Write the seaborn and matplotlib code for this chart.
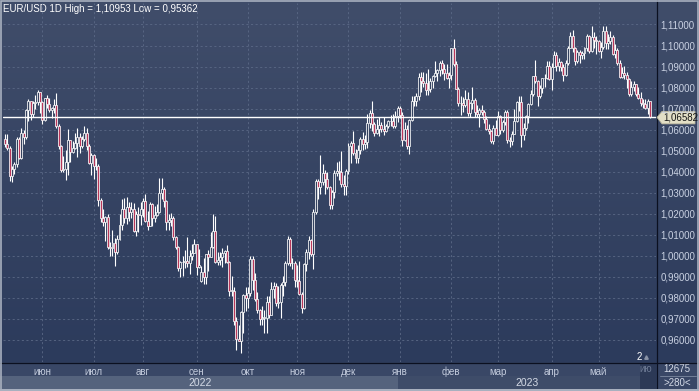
import numpy as np
import pandas as pd
import matplotlib
matplotlib.use("Agg")
import matplotlib.pyplot as plt
import seaborn as sns
from matplotlib.patches import Rectangle, Polygon

sns.set_theme(style="dark")
plt.rcParams['font.family'] = ['Liberation Sans', 'DejaVu Sans']

# ---------------- data (daily EUR/USD, 2022-05-10 .. 2023-05-31) ----------------
start_date = "2022-05-10"
opens = [
    1.0555,1.0530,1.0515,1.0380,1.0412,1.0435,1.0555,1.0465,1.0585,1.0563,1.0692,1.0735,1.0674,1.0725,1.0733,1.0780,
    1.0733,1.0648,1.0750,1.0720,1.0695,1.0705,1.0715,1.0615,1.0520,1.0410,1.0415,1.0445,1.0550,1.0495,1.0515,1.0535,1.0565,1.0520,1.0555,1.0585,1.0520,1.0443,
    1.0480,1.0425,1.0425,1.0265,1.0180,1.0160,1.0185,1.0040,1.0035,1.0060,1.0020,1.0080,1.0145,1.0225,1.0180,1.0230,1.0210,1.0225,1.0120,1.0200,1.0195,
    1.0225,1.0260,1.0165,1.0140,1.0245,1.0180,1.0195,1.0210,1.0300,1.0320,1.0260,1.0160,1.0170,1.0180,1.0090,1.0040,0.9940,0.9970,0.9970,0.9975,0.9965,1.0000,1.0015,
    1.0055,0.9945,0.9880,0.9925,0.9900,1.0010,0.9995,1.0040,1.0120,0.9970,0.9980,0.9995,1.0015,1.0025,0.9970,0.9835,0.9835,0.9690,0.9605,0.9595,0.9735,0.9815,
    0.9800,0.9825,0.9985,0.9885,0.9795,0.9740,0.9700,0.9705,0.9705,0.9780,0.9720,0.9840,0.9855,0.9775,0.9780,0.9860,0.9875,0.9965,1.0080,0.9965,0.9965,
    0.9885,0.9880,0.9820,0.9750,0.9960,1.0020,1.0075,1.0010,1.0210,1.0355,1.0325,1.0350,1.0395,1.0365,1.0325,1.0240,1.0305,1.0395,1.0405,1.0400,1.0340,1.0330,
    1.0405,1.0520,1.0535,1.0490,1.0465,1.0505,1.0555,1.0530,1.0540,1.0630,1.0680,1.0625,1.0585,1.0605,1.0620,1.0605,1.0595,1.0615,1.0640,1.0640,1.0615,1.0665,
    1.0705,1.0670,1.0550,1.0605,1.0520,1.0645,1.0735,1.0735,1.0760,1.0850,1.0830,1.0820,1.0790,1.0795,1.0830,1.0855,1.0870,1.0885,1.0915,1.0890,1.0870,1.0845,
    1.0860,1.0990,1.0910,1.0795,1.0725,1.0725,1.0715,1.0745,1.0680,1.0725,1.0740,1.0685,1.0675,1.0695,1.0685,1.0650,1.0605,1.0595,1.0545,1.0610,
    1.0575,1.0665,1.0600,1.0635,1.0685,1.0550,1.0545,1.0580,1.0640,1.0730,1.0730,1.0575,1.0610,1.0665,1.0720,1.0770,1.0855,1.0830,1.0760,1.0800,1.0845,1.0845,1.0905,
    1.0840,1.0900,1.0955,1.0905,1.0920,1.0900,1.0860,1.0915,1.0990,1.1045,1.0990,1.0925,1.0970,1.0955,1.0965,1.0990,1.1045,1.0975,1.1040,1.1025,
    1.1020,1.0975,1.0995,1.1070,1.1010,1.1020,1.1040,1.0960,1.0980,1.0915,1.0850,1.0870,1.0860,1.0840,1.0770,1.0805,1.0815,1.0770,1.0750,1.0725,1.0720,1.0705,1.0735,
]
highs = [
    1.0578,1.0577,1.0524,1.0425,1.0444,1.0563,1.0565,1.0607,1.0597,1.0698,1.0748,1.0737,1.0737,1.0765,1.0787,1.0780,
    1.0736,1.0750,1.0764,1.0749,1.0708,1.0748,1.0774,1.0625,1.0525,1.0476,1.0505,1.0601,1.0552,1.0548,1.0582,1.0606,1.0582,1.0572,1.0615,1.0606,1.0531,1.0487,
    1.0486,1.0463,1.0436,1.0276,1.0222,1.0189,1.0198,1.0068,1.0122,1.0084,1.0097,1.0200,1.0269,1.0273,1.0278,1.0257,1.0258,1.0249,1.0214,1.0234,1.0254,
    1.0275,1.0293,1.0215,1.0254,1.0253,1.0237,1.0248,1.0368,1.0368,1.0328,1.0267,1.0200,1.0202,1.0191,1.0095,1.0048,0.9977,0.9999,1.0029,1.0090,1.0029,1.0055,1.0080,
    1.0055,1.0033,0.9950,0.9989,1.0011,1.0029,1.0112,1.0198,1.0187,1.0020,1.0017,1.0036,1.0030,1.0051,0.9977,0.9906,0.9852,0.9710,0.9671,0.9738,0.9817,0.9854,
    0.9853,0.9999,0.9998,0.9920,0.9830,0.9748,0.9760,0.9742,0.9807,0.9809,0.9875,0.9876,0.9873,0.9858,0.9869,0.9905,0.9976,1.0093,1.0089,0.9990,0.9976,
    0.9954,0.9976,0.9830,0.9966,1.0033,1.0094,1.0082,1.0222,1.0366,1.0365,1.0480,1.0436,1.0407,1.0397,1.0332,1.0315,1.0407,1.0446,1.0450,1.0497,1.0383,1.0415,
    1.0535,1.0545,1.0595,1.0506,1.0528,1.0565,1.0588,1.0574,1.0673,1.0695,1.0736,1.0637,1.0651,1.0659,1.0638,1.0660,1.0625,1.0647,1.0670,1.0675,1.0687,1.0714,
    1.0713,1.0683,1.0636,1.0622,1.0650,1.0760,1.0760,1.0775,1.0868,1.0873,1.0875,1.0868,1.0887,1.0845,1.0860,1.0927,1.0888,1.0925,1.0929,1.0914,1.0914,1.0876,
    1.0990,1.1033,1.0928,1.0804,1.0760,1.0753,1.0790,1.0777,1.0730,1.0805,1.0749,1.0718,1.0705,1.0715,1.0695,1.0665,1.0627,1.0597,1.0622,1.0645,
    1.0691,1.0668,1.0645,1.0695,1.0695,1.0564,1.0593,1.0700,1.0735,1.0760,1.0760,1.0631,1.0670,1.0725,1.0789,1.0856,1.0930,1.0838,1.0812,1.0846,1.0863,1.0925,1.0925,
    1.0916,1.0973,1.0970,1.0942,1.0925,1.0913,1.0929,1.0998,1.1063,1.1075,1.0994,1.0980,1.0980,1.0976,1.0994,1.1053,1.1050,1.1095,1.1064,1.1045,
    1.1028,1.1015,1.1092,1.1091,1.1054,1.1068,1.1048,1.1008,1.0988,1.0932,1.0900,1.0904,1.0873,1.0846,1.0829,1.0829,1.0818,1.0804,1.0779,1.0746,1.0745,1.0746,1.0738,
]
lows = [
    1.0519,1.0501,1.0354,1.0349,1.0390,1.0422,1.0461,1.0460,1.0531,1.0555,1.0642,1.0644,1.0662,1.0699,1.0718,1.0680,
    1.0627,1.0640,1.0703,1.0685,1.0654,1.0677,1.0608,1.0506,1.0398,1.0397,1.0359,1.0382,1.0445,1.0488,1.0510,1.0470,1.0490,1.0513,1.0545,1.0504,1.0437,1.0382,
    1.0366,1.0409,1.0236,1.0162,1.0144,1.0072,1.0034,0.9999,0.9998,0.9952,1.0007,1.0075,1.0121,1.0154,1.0153,1.0164,1.0180,1.0112,1.0095,1.0112,1.0145,
    1.0185,1.0160,1.0123,1.0140,1.0141,1.0160,1.0188,1.0202,1.0272,1.0230,1.0122,1.0123,1.0144,1.0074,1.0033,0.9926,0.9900,0.9903,0.9942,0.9948,0.9915,0.9982,1.0015,
    0.9910,0.9940,0.9877,0.9864,0.9864,0.9929,0.9995,1.0035,0.9966,0.9955,0.9955,0.9945,0.9968,0.9967,0.9810,0.9807,0.9669,0.9553,0.9593,0.9536,0.9635,0.9737,
    0.9751,0.9807,0.9836,0.9786,0.9730,0.9670,0.9671,0.9632,0.9632,0.9706,0.9718,0.9801,0.9760,0.9754,0.9706,0.9810,0.9855,0.9955,0.9952,0.9936,0.9853,
    0.9852,0.9815,0.9730,0.9747,0.9930,0.9984,1.0000,0.9935,1.0200,1.0272,1.0292,1.0338,1.0293,1.0316,1.0223,1.0225,1.0276,1.0380,1.0361,1.0325,1.0289,1.0290,
    1.0390,1.0443,1.0478,1.0443,1.0443,1.0484,1.0505,1.0507,1.0515,1.0610,1.0593,1.0572,1.0578,1.0568,1.0590,1.0573,1.0588,1.0610,1.0615,1.0607,1.0610,1.0635,
    1.0655,1.0520,1.0545,1.0510,1.0484,1.0643,1.0712,1.0714,1.0739,1.0778,1.0802,1.0767,1.0766,1.0777,1.0800,1.0850,1.0833,1.0857,1.0865,1.0835,1.0843,1.0800,
    1.0835,1.0902,1.0795,1.0713,1.0669,1.0686,1.0710,1.0666,1.0660,1.0700,1.0660,1.0660,1.0613,1.0672,1.0630,1.0600,1.0577,1.0536,1.0533,1.0575,
    1.0569,1.0577,1.0587,1.0620,1.0537,1.0516,1.0526,1.0577,1.0635,1.0689,1.0516,1.0552,1.0600,1.0630,1.0719,1.0759,1.0822,1.0714,1.0750,1.0775,1.0804,1.0840,1.0835,
    1.0788,1.0897,1.0877,1.0878,1.0880,1.0832,1.0857,1.0907,1.0986,1.0970,1.0909,1.0915,1.0916,1.0938,1.0937,1.0974,1.0964,1.0970,1.0990,1.0962,
    1.0967,1.0942,1.0985,1.0983,1.0984,1.1006,1.0956,1.0942,1.0908,1.0846,1.0847,1.0840,1.0800,1.0762,1.0760,1.0786,1.0760,1.0747,1.0711,1.0703,1.0699,1.0675,1.0655,
]
closes = [
    1.0530,1.0515,1.0380,1.0412,1.0435,1.0555,1.0465,1.0585,1.0563,1.0692,1.0735,1.0674,1.0725,1.0733,1.0780,1.0733,
    1.0648,1.0750,1.0720,1.0695,1.0705,1.0715,1.0615,1.0520,1.0410,1.0415,1.0445,1.0550,1.0495,1.0515,1.0535,1.0565,1.0520,1.0555,1.0585,1.0520,1.0443,1.0480,
    1.0425,1.0425,1.0265,1.0180,1.0160,1.0185,1.0040,1.0035,1.0060,1.0020,1.0080,1.0145,1.0225,1.0180,1.0230,1.0210,1.0225,1.0120,1.0200,1.0195,1.0225,
    1.0260,1.0165,1.0140,1.0245,1.0180,1.0195,1.0210,1.0300,1.0320,1.0260,1.0160,1.0170,1.0180,1.0090,1.0040,0.9940,0.9970,0.9970,0.9975,0.9965,1.0000,1.0015,1.0055,
    0.9945,0.9955,0.9925,0.9900,1.0010,0.9995,1.0040,1.0120,0.9970,0.9980,0.9995,1.0015,1.0025,0.9970,0.9835,0.9835,0.9690,0.9605,0.9595,0.9735,0.9815,0.9800,
    0.9825,0.9985,0.9885,0.9795,0.9740,0.9700,0.9705,0.9705,0.9780,0.9720,0.9840,0.9855,0.9775,0.9780,0.9860,0.9875,0.9965,1.0080,0.9965,0.9965,0.9885,
    0.9880,0.9820,0.9750,0.9960,1.0020,1.0075,1.0010,1.0210,1.0355,1.0325,1.0350,1.0395,1.0365,1.0325,1.0240,1.0305,1.0395,1.0405,1.0400,1.0340,1.0330,1.0405,
    1.0520,1.0535,1.0490,1.0465,1.0505,1.0555,1.0530,1.0540,1.0630,1.0680,1.0625,1.0585,1.0605,1.0620,1.0605,1.0595,1.0615,1.0640,1.0640,1.0615,1.0665,1.0705,
    1.0670,1.0550,1.0605,1.0520,1.0645,1.0735,1.0735,1.0760,1.0850,1.0830,1.0820,1.0790,1.0795,1.0830,1.0855,1.0870,1.0885,1.0915,1.0890,1.0870,1.0845,1.0860,
    1.0990,1.0910,1.0795,1.0725,1.0725,1.0715,1.0745,1.0680,1.0725,1.0740,1.0685,1.0675,1.0695,1.0685,1.0650,1.0605,1.0595,1.0545,1.0610,1.0575,
    1.0665,1.0600,1.0635,1.0685,1.0550,1.0545,1.0580,1.0640,1.0730,1.0730,1.0575,1.0610,1.0665,1.0720,1.0770,1.0855,1.0830,1.0760,1.0800,1.0845,1.0845,1.0905,1.0840,
    1.0900,1.0955,1.0905,1.0920,1.0900,1.0860,1.0915,1.0990,1.1045,1.0990,1.0925,1.0970,1.0955,1.0965,1.0990,1.1045,1.0975,1.1040,1.1025,1.1020,
    1.0975,1.0995,1.1070,1.1010,1.1020,1.1040,1.0960,1.0980,1.0915,1.0850,1.0870,1.0860,1.0840,1.0770,1.0805,1.0815,1.0770,1.0750,1.0725,1.0720,1.0705,1.0735,1.0658,
]
last_price = 1.06582
price_ticks = [0.96, 0.97, 0.98, 0.99, 1.00, 1.01, 1.02, 1.03, 1.04, 1.05, 1.06, 1.07, 1.08, 1.09, 1.10, 1.11]
month_names = ["июн", "июл", "авг", "сен", "окт", "ноя", "дек", "янв", "фев", "мар", "апр", "май"]
years = ["2022", "2023"]
title = "EUR/USD 1D High = 1,10953 Low = 0,95362"
footer_top, footer_bottom = "12675", ">280<"

# ---------------- frame ----------------
o = np.array(opens); h = np.array(highs); l = np.array(lows); c = np.array(closes)
n = len(c)
dates = pd.bdate_range(start_date, periods=n)
x = np.arange(n)
df = pd.DataFrame({"date": dates, "x": x, "open": o, "high": h, "low": l, "close": c})
month_start = df.groupby(df["date"].dt.to_period("M"))["x"].min().values[1:]

W, H = 699, 391
fig = plt.figure(figsize=(W / 100, H / 100), dpi=100)
fig.patch.set_facecolor("#2f3d5c")

bg = fig.add_axes([0, 0, 1, 1])
bg.set_xlim(0, W); bg.set_ylim(H, 0); bg.axis("off")
top_col = np.array([64, 77, 106]) / 255
bot_col = np.array([44, 59, 92]) / 255
t = np.linspace(0, 1, 256)[:, None, None]
grad = top_col * (1 - t) + bot_col * t
bg.imshow(np.repeat(grad, 2, axis=1), extent=(0, W, 362, 0), aspect="auto", zorder=0)

# bottom strips
bg.add_patch(Rectangle((0, 363), 656, 13, fc="#394766", ec="none", zorder=1))
bg.add_patch(Rectangle((0, 376), 398, 13, fc="#55637d", ec="none", zorder=1))
bg.add_patch(Rectangle((398, 376), 258, 13, fc="#3e4c69", ec="none", zorder=1))
bg.add_patch(Rectangle((640, 363), 16, 26, fc="#2c3956", ec="none", zorder=2))
bg.add_patch(Rectangle((657, 363), 42, 26, fc="#394766", ec="none", zorder=1))
bg.plot([660, 696], [375.5, 375.5], color="#7d89a0", lw=0.6, zorder=3)
bg.text(646, 369.5, "ию", color="#6d7a94", fontsize=7, ha="center", va="center", zorder=3)
bg.text(200, 382.5, years[0], color="#d4dae6", fontsize=7.5, ha="center", va="center", zorder=3)
bg.text(527, 382.5, years[1], color="#d4dae6", fontsize=7.5, ha="center", va="center", zorder=3)
bg.text(677, 369.5, footer_top, color="#d4dae6", fontsize=7, ha="center", va="center", zorder=3)
bg.text(677, 382.5, footer_bottom, color="#d4dae6", fontsize=7, ha="center", va="center", zorder=3)

# separators and border
bg.plot([656.5, 656.5], [0, 389], color="#0b1020", lw=0.9, zorder=5)
bg.plot([0, W], [362.5, 362.5], color="#0b1020", lw=0.9, zorder=5)
bg.add_patch(Rectangle((0.6, 0.6), W - 1.2, H - 1.2, fc="none", ec="#a8b0bf", lw=1.2, zorder=6))
bg.add_patch(Rectangle((0, 389), W, 2, fc="#a8b0bf", ec="none", zorder=6))

# ---------------- main axes ----------------
ax = fig.add_axes([3 / W, (H - 362) / H, 653 / W, 359 / H])
ax.set_facecolor("none")
ax.set_xlim(-0.86, 278.6)
ax.set_ylim(0.94951, 1.12022)
for s in ax.spines.values():
    s.set_visible(False)

for v in price_ticks:
    ax.axhline(v, color="#5b6986", lw=0.6, ls=(0, (2.5, 3)), zorder=1)
for m in month_start:
    ax.axvline(m, color="#5b6986", lw=0.6, ls=(0, (2.5, 3)), zorder=1)

up = c >= o
body_lo = np.minimum(o, c); body_hi = np.maximum(o, c)
ax.vlines(x, body_hi, h, color="white", lw=0.8, zorder=3)
ax.vlines(x, l, body_lo, color="white", lw=0.8, zorder=3)
heights = np.maximum(body_hi - body_lo, 0.00025)
ax.bar(x[up], heights[up], bottom=body_lo[up], width=0.85, color="#34425f",
       edgecolor="white", linewidth=0.55, zorder=4)
ax.bar(x[~up], heights[~up], bottom=body_lo[~up], width=0.85, color="#b8375a",
       edgecolor="white", linewidth=0.55, zorder=4)

ax.axhline(last_price, color="white", lw=1.0, zorder=5)

ax.yaxis.tick_right()
ax.set_yticks(price_ticks)
ax.set_yticklabels([f"{v:.5f}".replace(".", ",") for v in price_ticks])
ax.tick_params(axis="y", length=0, pad=3.2, labelsize=7, labelcolor="#c9d1e2")
ax.set_xticks(month_start)
ax.set_xticklabels(month_names)
ax.tick_params(axis="x", length=0, pad=3.5, labelsize=7, labelcolor="#c3cbdc")
ax.set_xlabel(""); ax.set_ylabel("")

# price marker on the right
yp = 3 + (1.12022 - last_price) / (1.12022 - 0.94951) * 359
bg.add_patch(Polygon([(657, yp), (662, yp - 6), (695, yp - 6), (695, yp + 6.5), (662, yp + 6.5)],
                     closed=True, fc="#e3dfc6", ec="#b7b29a", lw=0.6, zorder=7))
bg.text(663, yp + 0.3, f"{last_price:.5f}".replace(".", ","), color="#151515", fontsize=7,
        ha="left", va="center", zorder=8)

bg.text(3, 9, title, color="white", fontsize=7, ha="left", va="center", zorder=8)
bg.text(639, 357, "2", color="white", fontsize=7, ha="center", va="center", zorder=8)
bg.plot([646], [357], marker="^", ms=2.5, color="#8a93a6", zorder=8)

fig.savefig("out.png", dpi=100)
